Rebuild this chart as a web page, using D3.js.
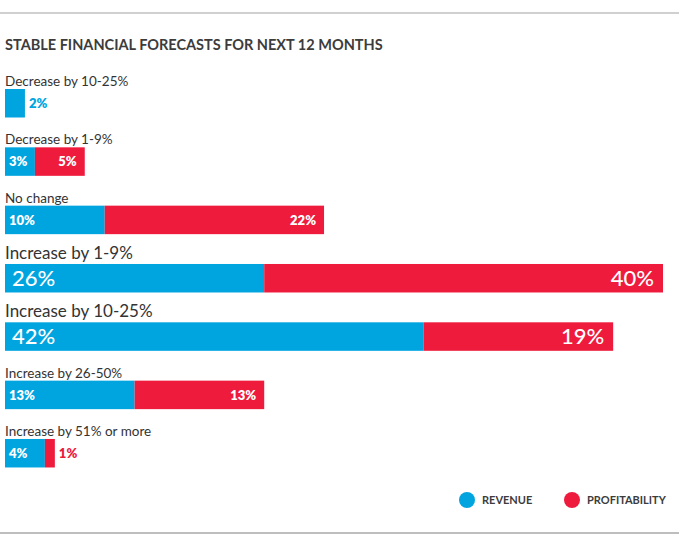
<!DOCTYPE html>
<html>
<head>
<meta charset="utf-8">
<script src="https://cdn.jsdelivr.net/npm/d3@7"></script>
<style>
  body { margin: 0; background: #fff; }
  svg { display: block; font-family: Lato, "Open Sans", sans-serif; }
</style>
</head>
<body>
<svg width="679" height="547"></svg>
<script>
const categories = [
  "Decrease by 10-25%",
  "Decrease by 1-9%",
  "No change",
  "Increase by 1-9%",
  "Increase by 10-25%",
  "Increase by 26-50%",
  "Increase by 51% or more"
];
const revenue = [2, 3, 10, 26, 42, 13, 4];
const profitability = [0, 5, 22, 40, 19, 13, 1];
const seriesNames = ["REVENUE", "PROFITABILITY"];
const highlighted = ["Increase by 1-9%", "Increase by 10-25%"];

const svg = d3.select("svg");
const width = +svg.attr("width");
const colors = { REVENUE: "#00a5df", PROFITABILITY: "#ee1b3d" };
const textColor = "#333";

const data = categories.map((c, i) => ({
  category: c,
  REVENUE: revenue[i],
  PROFITABILITY: profitability[i]
}));

const xScale = d3.scaleLinear().domain([0, 66]).range([5, 663]);
const yScale = d3.scaleBand().domain(categories).range([60, 468.3]).padding(0);
const barOffset = 29;
const barHeight = 28.5;

// rules top and bottom
svg.append("line")
  .attr("x1", 0).attr("x2", width).attr("y1", 13).attr("y2", 13)
  .attr("stroke", "#d0d0d0").attr("stroke-width", 2);
svg.append("line")
  .attr("x1", 0).attr("x2", width).attr("y1", 533).attr("y2", 533)
  .attr("stroke", "#a8a8a8").attr("stroke-width", 1.5);

svg.append("text")
  .attr("x", 5).attr("y", 50)
  .attr("fill", "#3c3c3c")
  .attr("font-size", 14.5)
  .attr("font-weight", 700)
  .text("STABLE FINANCIAL FORECASTS FOR NEXT 12 MONTHS");

const stacked = d3.stack().keys(seriesNames)(data);

const rows = svg.selectAll("g.row")
  .data(data)
  .enter()
  .append("g")
  .attr("class", "row")
  .attr("transform", d => `translate(0,${yScale(d.category)})`);

rows.append("text")
  .attr("x", 5)
  .attr("y", d => highlighted.includes(d.category) ? 24 : 26)
  .attr("fill", textColor)
  .attr("font-size", d => highlighted.includes(d.category) ? 17 : 13.5)
  .text(d => d.category);

const segments = stacked.flatMap(s => s.map((p, i) => ({
  key: s.key,
  category: categories[i],
  x0: p[0],
  x1: p[1],
  value: p[1] - p[0]
}))).filter(d => d.value > 0);

const segG = svg.selectAll("g.seg")
  .data(segments)
  .enter()
  .append("g")
  .attr("class", "seg")
  .attr("transform", d => `translate(0,${yScale(d.category) + barOffset})`);

segG.append("rect")
  .attr("x", d => xScale(d.x0))
  .attr("width", d => xScale(d.x1) - xScale(d.x0))
  .attr("height", barHeight)
  .attr("fill", d => colors[d.key]);

const inside = d => d.value >= 3;
segG.append("text")
  .attr("x", d => {
    const big = highlighted.includes(d.category);
    if (!inside(d)) return xScale(d.x1) + 4;
    if (d.key === "REVENUE") return xScale(d.x0) + (big ? 7 : 4);
    return xScale(d.x1) - (big ? 9 : 8);
  })
  .attr("y", barHeight / 2)
  .attr("dy", "0.36em")
  .attr("text-anchor", d => inside(d) && d.key === "PROFITABILITY" ? "end" : "start")
  .attr("fill", d => inside(d) ? "#fff" : colors[d.key])
  .attr("font-size", d => highlighted.includes(d.category) ? 22 : 13)
  .attr("font-weight", d => highlighted.includes(d.category) ? 500 : 800)
  .text(d => `${d.value}%`);

// legend
const legend = svg.selectAll("g.legend")
  .data(seriesNames)
  .enter()
  .append("g")
  .attr("class", "legend")
  .attr("transform", (d, i) => `translate(${[467, 572][i]},500)`);

legend.append("circle").attr("r", 8).attr("fill", d => colors[d]);
legend.append("text")
  .attr("x", 15)
  .attr("dy", "0.36em")
  .attr("fill", "#3c3c3c")
  .attr("font-size", 11)
  .attr("font-weight", 700)
  .text(d => d);
</script>
</body>
</html>
